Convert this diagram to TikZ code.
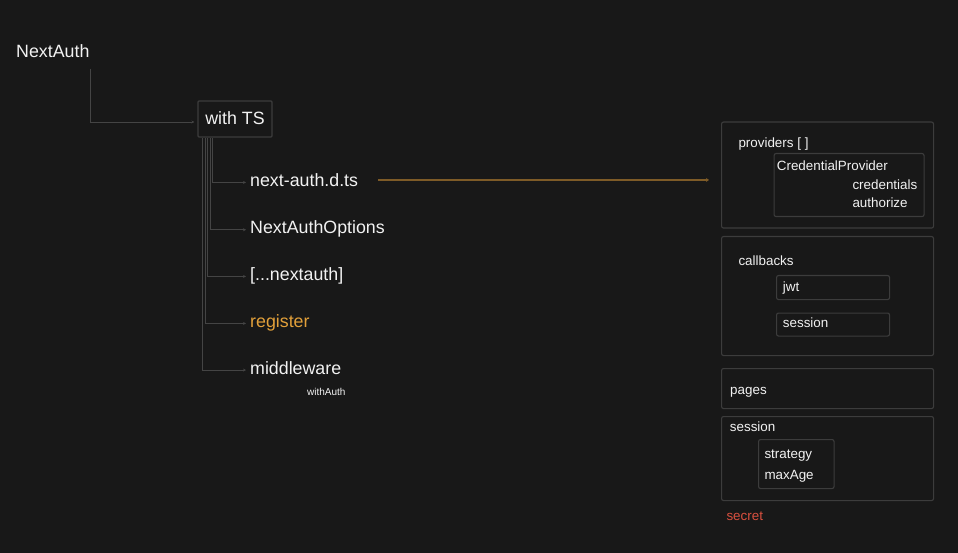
\documentclass[tikz,border=0pt]{standalone}
\usepackage{fontspec}
\setmainfont{Liberation Sans}
\usetikzlibrary{arrows.meta}
\definecolor{bg}{HTML}{181818}
\definecolor{ink}{HTML}{F2F2F2}
\definecolor{wirec}{HTML}{444444}
\definecolor{framec}{HTML}{3C3C3C}
\definecolor{amber}{HTML}{E2A03A}
\definecolor{amberwire}{HTML}{7E5B27}
\definecolor{alert}{HTML}{D9503F}
\begin{document}
\begin{tikzpicture}[
    x=1pt, y=-1pt,
    every node/.style={inner sep=0pt, text=ink},
    big/.style={font=\fontsize{17.8}{20}\selectfont, text height=12pt,
                text depth=3.5pt, anchor=base west},
    small/.style={font=\fontsize{13.4}{16}\selectfont, anchor=base west},
    tiny/.style={font=\fontsize{10}{12}\selectfont, anchor=base west},
    panel/.style={draw=framec, line width=1.1pt, rounded corners=2pt,
                  anchor=north west},
    wire/.style={draw=wirec, line width=0.9pt, -{Stealth[length=3pt,width=3pt]}},
]
\fill[bg] (0,0) rectangle (958,553);
\useasboundingbox (0,0) rectangle (958,553);

% left tree
\node[big] (na) at (16,58) {NextAuth};
\node[draw=framec, line width=1.1pt, rounded corners=1pt, minimum width=74pt,
      minimum height=36pt, font=\fontsize{17.8}{20}\selectfont,
      text height=12pt, text depth=0pt] (ts) at (235,119) {with TS};
\node[big] (dts) at (250,186.7) {next-auth.d.ts};
\node[big] (opt) at (250,234) {NextAuthOptions};
\node[big] (route) at (250,280.7) {[...nextauth]};
\node[big, text=amber] (reg) at (250,327.7) {register};
\node[big] (mid) at (250,374.3) {middleware};
\node[tiny] (wa) at (307,395.7) {withAuth};

\draw[wire, shorten >=3pt] ([xshift=1pt,yshift=-7pt]na.south east) |- ([yshift=-3pt]ts.west);
\draw[wire, shorten >=4pt] ([xshift=15pt]ts.south west) |- (dts.west);
\draw[wire, shorten >=4pt] ([xshift=12.5pt]ts.south west) |- (opt.west);
\draw[wire, shorten >=4pt] ([xshift=10pt]ts.south west) |- (route.west);
\draw[wire, shorten >=4pt] ([xshift=7.5pt]ts.south west) |- (reg.west);
\draw[wire, shorten >=4pt] ([xshift=5pt]ts.south west) |- (mid.west);

% right panels
\node[panel, minimum width=212pt, minimum height=106pt] (prov) at (721,121.5) {};
\node[small] at (738.3,147.3) {providers [ ]};
\node[panel, minimum width=150pt, minimum height=63pt] (cred) at (773.5,153) {};
\node[small] at (776.7,171) {CredentialProvider};
\node[small] at (852.3,189.3) {credentials};
\node[small] at (852.3,207.7) {authorize};

\node[panel, minimum width=212pt, minimum height=119pt] (cb) at (721,236) {};
\node[small] at (738.3,265.7) {callbacks};
\node[panel, minimum width=113pt, minimum height=24pt] (jwt) at (776,275) {};
\node[small] at (782.7,291) {jwt};
\node[panel, minimum width=113pt, minimum height=23pt] (cbs) at (776,312.5) {};
\node[small] at (782.7,327.3) {session};

\node[panel, minimum width=212pt, minimum height=40pt] (pages) at (721,368) {};
\node[small] at (730,394.3) {pages};

\node[panel, minimum width=212pt, minimum height=84pt] (sess) at (721,416) {};
\node[small] at (729.7,431.7) {session};
\node[panel, minimum width=75.5pt, minimum height=49pt] (strat) at (758,439) {};
\node[small] at (764.3,458.3) {strategy};
\node[small] at (764.3,479) {maxAge};
\node[small, text=alert] (sec) at (726.3,520.7) {secret};

\draw[draw=amberwire, line width=1.8pt, -{Stealth[length=3pt,width=4pt]},
      shorten <=20pt, shorten >=12pt]
  ([yshift=2.5pt]dts.east) -- ([yshift=2.5pt]dts.east -| prov.west);
\end{tikzpicture}
\end{document}
